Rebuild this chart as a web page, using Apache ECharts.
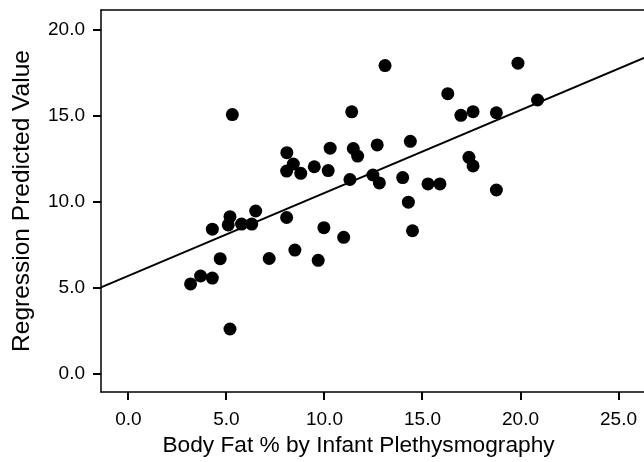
<!DOCTYPE html>
<html>
<head>
<meta charset="utf-8">
<script src="https://cdn.jsdelivr.net/npm/echarts@6/dist/echarts.min.js"></script>
<style>html,body{margin:0;padding:0;background:#fff;}#c{width:644px;height:462px;}</style>
</head>
<body>
<div id="c"></div>
<script>
// Body fat % by infant plethysmography (x) vs regression predicted value (y)
var bodyFat = [3.17,3.68,4.28,4.28,4.68,5.09,5.18,5.18,5.30,5.77,6.29,6.49,7.18,8.07,8.49,9.68,9.97,10.98,
  8.08,8.41,8.07,8.79,9.48,10.19,10.29,11.39,11.47,11.69,12.69,13.09,11.30,12.47,12.80,13.99,14.38,14.28,
  14.49,15.28,15.89,16.29,16.96,17.58,17.37,17.58,18.77,18.77,19.87,20.87];
var predicted = [5.22,5.68,5.56,8.40,6.69,8.65,9.13,2.60,15.06,8.70,8.70,9.46,6.70,9.08,7.19,6.59,8.49,7.93,
  12.85,12.19,11.78,11.65,12.03,11.81,13.11,15.22,13.09,12.65,13.30,17.91,11.29,11.55,11.09,11.40,13.51,9.97,
  8.31,11.03,11.03,16.28,15.02,15.23,12.58,12.08,15.17,10.68,18.05,15.91];
// Fitted regression line endpoints
var fitX = [-1.4, 26.3];
var fitY = [5.02, 18.35];
// Tick values
var xTicks = [0, 5, 10, 15, 20, 25];
var yTicks = [0, 5, 10, 15, 20];
// Axis ranges
var xMin = -1.4, xMax = 26.3;
var yMin = -1.06, yMax = 21.14;

var pts = bodyFat.map(function(v, i){ return [v, predicted[i]]; });
var fit = fitX.map(function(v, i){ return [v, fitY[i]]; });
var TICK = 8;

var chart = echarts.init(document.getElementById('c'), null, {renderer: 'canvas'});
var font = 'Liberation Sans, Arial, sans-serif';
function fmt(v){ return v.toFixed(1); }

chart.setOption({
  animation: false,
  backgroundColor: '#fff',
  grid: {left: 101, top: 10, right: 0, bottom: 70, containLabel: false},
  xAxis: [{
    type: 'value', min: xMin, max: xMax, position: 'bottom',
    name: 'Body Fat % by Infant Plethysmography', nameLocation: 'middle', nameGap: 37,
    nameTextStyle: {fontFamily: font, fontSize: 22.7, color: '#000', padding: [0, 28, 0, 0]},
    axisLine: {show: true, onZero: false, lineStyle: {color: '#000', width: 1.5}},
    axisTick: {show: false},
    axisLabel: {customValues: xTicks, fontFamily: font, fontSize: 19, color: '#000', margin: 18,
      formatter: fmt},
    splitLine: {show: false}
  }, {
    type: 'value', min: xMin, max: xMax, position: 'top',
    axisLine: {show: true, onZero: false, lineStyle: {color: '#000', width: 1.5}},
    axisTick: {show: false}, axisLabel: {show: false}, splitLine: {show: false}
  }],
  yAxis: {
    type: 'value', min: yMin, max: yMax,
    name: 'Regression Predicted Value', nameLocation: 'middle', nameGap: 66, nameRotate: 90,
    nameTextStyle: {fontFamily: font, fontSize: 24.5, color: '#000'},
    axisLine: {show: true, onZero: false, lineStyle: {color: '#000', width: 1.5}},
    axisTick: {show: false},
    axisLabel: {customValues: yTicks, fontFamily: font, fontSize: 19, color: '#000', margin: 16,
      formatter: fmt},
    splitLine: {show: false}
  },
  series: [{
    type: 'line', data: fit, showSymbol: false, symbol: 'none', silent: true,
    lineStyle: {color: '#000', width: 2}, z: 2
  }, {
    type: 'scatter', data: pts, symbol: 'circle', symbolSize: 13,
    itemStyle: {color: '#000', opacity: 1}, z: 3
  }]
});

// Tick marks placed through the chart's own axis scales
var tickEls = [];
xTicks.forEach(function(v){
  var p = chart.convertToPixel({xAxisIndex: 0, yAxisIndex: 0}, [v, yMin]);
  var x = Math.round(p[0]);
  tickEls.push({type: 'rect', silent: true, z: 10,
    shape: {x: x - 1, y: p[1], width: 2, height: TICK},
    style: {fill: '#000'}});
});
yTicks.forEach(function(v){
  var p = chart.convertToPixel({xAxisIndex: 0, yAxisIndex: 0}, [xMin, v]);
  var y = Math.round(p[1]);
  tickEls.push({type: 'rect', silent: true, z: 10,
    shape: {x: p[0] - TICK, y: y - 1, width: TICK, height: 2},
    style: {fill: '#000'}});
});
chart.setOption({graphic: tickEls});
</script>
</body>
</html>
